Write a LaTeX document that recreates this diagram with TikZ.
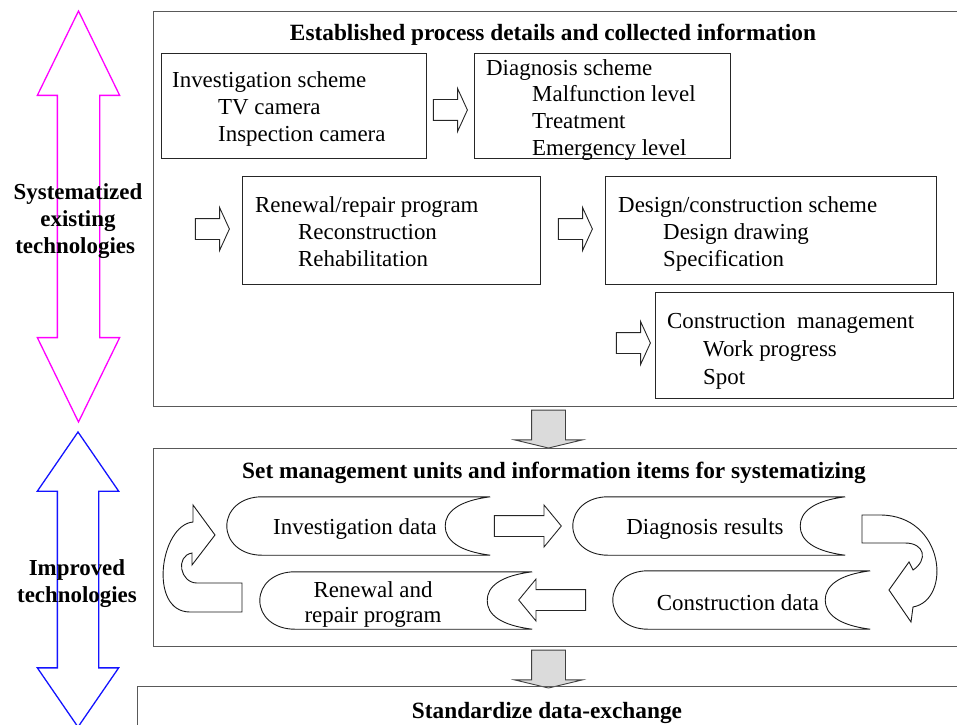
\documentclass[tikz,border=0pt]{standalone}
\usepackage{fontspec}
\setmainfont{Liberation Serif}
\usetikzlibrary{shapes.arrows,calc}

\definecolor{scopemagenta}{RGB}{255,0,255}
\definecolor{scopeblue}{RGB}{20,20,255}

% draws the outline of a scroll-like data sheet around an (invisible) node
\newcommand\scrolloutline[1]{%
  \draw[line width=0.9bp,draw=black!90]
    (#1.north east) -- ($(#1.north west)+(35,0)$)
    .. controls ($(#1.north west)+(14,0)$) and ($(#1.west)+(0,-16)$) .. (#1.west)
    .. controls ($(#1.west)+(0,16)$) and ($(#1.south west)+(14,0)$) .. ($(#1.south west)+(35,0)$)
    -- (#1.south east)
    .. controls ($(#1.south east)+(-32,-4)$) and ($(#1.east)+(-45,14)$) .. ($(#1.east)+(-45,0)$)
    .. controls ($(#1.east)+(-45,-14)$) and ($(#1.north east)+(-32,4)$) .. (#1.north east);}

\begin{document}
\begin{tikzpicture}[x=1bp,y=-1bp]
\tikzset{
  panel/.style={draw=black!65,line width=1.4bp,inner sep=0pt,anchor=north west},
  itembox/.style={draw=black!85,line width=1bp,inner sep=0pt,anchor=north west},
  bodytext/.style={font=\fontsize{23}{27.5}\selectfont,inner sep=0pt,anchor=north west,align=left},
  titletext/.style={font=\bfseries\fontsize{23.4}{27.5}\selectfont,inner sep=0pt,anchor=base},
  sidetext/.style={font=\bfseries\fontsize{23}{27}\selectfont,inner sep=0pt,anchor=north,align=center},
  smallarrow/.style={single arrow,draw=black!85,line width=0.9bp,minimum width=0pt,inner sep=10bp,
    minimum height=34bp,single arrow head extend=11bp,single arrow tip angle=131},
  flowarrow/.style={single arrow,draw=black!85,line width=0.9bp,minimum width=0pt,inner sep=10bp,
    minimum height=67bp,single arrow head extend=10.5bp,single arrow tip angle=101},
  grayarrow/.style={single arrow,draw=black!75,line width=0.9bp,fill=black!14,minimum width=0pt,
    inner sep=16.5bp,minimum height=26bp,single arrow head extend=17bp,single arrow tip angle=153,rotate=-90},
  scrollnode/.style={inner sep=0pt},
  uarrow/.style={draw=black!90,line width=0.9bp},
  scopearrow/.style={double arrow,line width=1.3bp,minimum width=0pt,rotate=90,double arrow head extend=20bp},
}
\useasboundingbox (0,0) rectangle (957,725);
\clip (0,0) rectangle (957,725);

% ---- scope arrows on the left
\node[scopearrow,draw=scopemagenta,inner sep=20.5bp,minimum height=411bp,double arrow tip angle=52] (sysarrow) at (78.5,216.5) {};
\node[sidetext] (syslabel) at (78,183.5) {Systematized\\existing\\technologies\hspace*{0.25em}};
\node[scopearrow,draw=scopeblue,inner sep=20bp,minimum height=295bp,double arrow tip angle=69] (imparrow) at (78,579.5) {};
\node[sidetext] (implabel) at (77,559) {Improved\\technologies};

% ---- upper panel: established process
\node[panel,minimum width=840bp,minimum height=395bp] (established) at (153,11) {};
\node[titletext] (establishedtitle) at (553,41) {Established process details and collected information};

\node[itembox,minimum width=265bp,minimum height=105bp] (invscheme) at (161,53) {};
\node[bodytext] (invschemetext) at ($(invscheme.north west)+(11,18)$)
  {Investigation scheme\\\hspace*{46bp}TV camera\\\hspace*{46bp}Inspection camera};

\node[itembox,minimum width=256bp,minimum height=105bp] (diagscheme) at (474,53) {};
\node[bodytext,font=\fontsize{23}{26.7}\selectfont] (diagschemetext) at ($(diagscheme.north west)+(12,6.3)$)
  {Diagnosis scheme\\\hspace*{46bp}Malfunction level\\\hspace*{46bp}Treatment\\\hspace*{46bp}Emergency level};

\node[itembox,minimum width=298bp,minimum height=108bp] (renewal) at (242,176) {};
\node[bodytext] (renewaltext) at ($(renewal.north west)+(13,20)$)
  {Renewal/repair program\\\hspace*{43bp}Reconstruction\\\hspace*{43bp}Rehabilitation};

\node[itembox,minimum width=331bp,minimum height=108bp] (design) at (605,176) {};
\node[bodytext] (designtext) at ($(design.north west)+(13,20)$)
  {Design/construction scheme\\\hspace*{45bp}Design drawing\\\hspace*{45bp}Specification};

\node[itembox,minimum width=298bp,minimum height=106bp] (management) at (655,292) {};
\node[bodytext,font=\fontsize{23}{28.3}\selectfont] (managementtext) at ($(management.north west)+(12,21)$)
  {Construction\ \ management\\\hspace*{36bp}Work progress\\\hspace*{36bp}Spot};

\node[smallarrow] (arrowA) at (448,110) {};
\node[smallarrow] (arrowB) at (210,229) {};
\node[smallarrow] (arrowC) at (573,229) {};
\node[smallarrow] (arrowD) at (631,343) {};

\node[grayarrow] (downA) at (548.5,427) {};

% ---- middle panel: management units
\node[panel,minimum width=840bp,minimum height=198bp] (units) at (153,448) {};
\node[titletext] (unitstitle) at (554,478) {Set management units and information items for systematizing};

\node[scrollnode,minimum width=263bp,minimum height=58bp] (invdata) at (358.5,526) {};
\node[scrollnode,minimum width=272bp,minimum height=58bp] (diagdata) at (709,526) {};
\node[scrollnode,minimum width=257bp,minimum height=58bp] (constdata) at (741.5,600) {};
\node[scrollnode,minimum width=272bp,minimum height=57bp] (repairdata) at (396,600.5) {};
\scrolloutline{invdata}
\scrolloutline{diagdata}
\scrolloutline{constdata}
\scrolloutline{repairdata}
\node[bodytext,anchor=base] (invdatatext) at (355,534) {Investigation data};
\node[bodytext,anchor=base] (diagdatatext) at (705,534) {Diagnosis results};
\node[bodytext,anchor=base] (constdatatext) at (738,610) {Construction data};
\node[bodytext,anchor=north,align=center,font=\fontsize{23}{25.5}\selectfont] (repairdatatext) at (373,581.3)
  {Renewal and\\repair program};

\node[flowarrow] (toDiagnosis) at (523.5,526) {};
\node[flowarrow,rotate=180] (toRepair) at (556.5,600) {};

% U-turn arrow from the repair program back to the investigation
\draw[uarrow] (242,612) -- (242,583) -- (197,583)
  .. controls (180,583) and (175,556) .. (192,553) -- (192,565) -- (215,535) -- (193,505) -- (193,522)
  .. controls (160,525) and (148,612) .. (190,612) -- cycle;
% U-turn arrow from the diagnosis results down to the construction data
\draw[uarrow] (862,515) -- (880,515)
  .. controls (945,515) and (952,600) .. (913,607) -- (911,622) -- (889,590) -- (909,562) -- (913,570)
  .. controls (928,560) and (925,543) .. (905,543) -- (862,543) -- cycle;

\node[grayarrow] (downB) at (548.5,667) {};

% ---- lower panel: data exchange
\node[panel,minimum width=860bp,minimum height=100bp] (exchange) at (137,686) {};
\node[titletext] (exchangetitle) at (547,718) {Standardize data-exchange};
\end{tikzpicture}
\end{document}
